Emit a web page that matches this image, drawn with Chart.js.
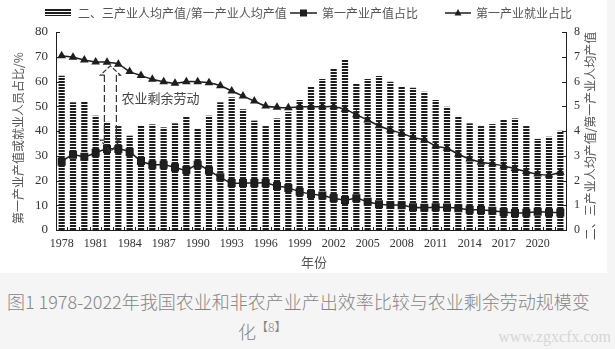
<!DOCTYPE html>
<html>
<head>
<meta charset="utf-8">
<script src="https://cdn.jsdelivr.net/npm/chart.js@4"></script>
<style>
  body { margin: 0; background: #f5f5f5; width: 615px; height: 349px; overflow: hidden; position: relative; }
  #box { position: absolute; left: 0; top: 0; width: 607px; height: 273px; background: #fff; }
  #cap { position: absolute; left: 0; top: 273px; width: 615px; color: #858585;
         font-family: "Noto Sans CJK SC Light", "Noto Sans CJK SC", "Noto Sans", sans-serif;
         font-weight: 300; font-size: 18px; }
  #cap .l1 { position: absolute; left: 7px; top: 15px; white-space: nowrap; }
  #cap .l2 { position: absolute; left: 238px; top: 45px; white-space: nowrap; }
  #cap sup { font-size: 12px; }
  #wm { position: absolute; right: 4px; bottom: 3px; color: #d6d6d6; font: 16px "Liberation Serif", serif; }
</style>
</head>
<body>
<div id="box"><canvas id="chart"></canvas></div>
<div id="cap">
  <div class="l1">图1 1978-2022年我国农业和非农产业产出效率比较与农业剩余劳动规模变</div>
  <div class="l2">化<sup>【8】</sup></div>
</div>
<div id="wm">www.zgxcfx.com</div>
<script>
// categories
var years = ['1978','1979','1980','1981','1982','1983','1984','1985','1986','1987',
             '1988','1989','1990','1991','1992','1993','1994','1995','1996','1997',
             '1998','1999','2000','2001','2002','2003','2004','2005','2006','2007',
             '2008','2009','2010','2011','2012','2013','2014','2015','2016','2017',
             '2018','2019','2020','2021','2022'];

// right axis: non-agri per capita output / agri per capita output
var ratio = [6.23, 5.16, 5.21, 4.62, 4.37, 4.20, 3.81, 4.21, 4.27, 4.15,
             4.31, 4.58, 4.11, 4.62, 5.16, 5.36, 4.88, 4.42, 4.20, 4.51,
             4.77, 5.25, 5.79, 6.10, 6.53, 6.87, 5.93, 6.10, 6.22, 5.99,
             5.79, 5.75, 5.59, 5.25, 4.98, 4.61, 4.31, 4.20, 4.28, 4.48,
             4.51, 4.20, 3.68, 3.77, 4.01];

// left axis, %
var outputShare = [27.6, 30.4, 29.6, 31.2, 32.7, 32.7, 31.5, 27.9, 26.4, 26.4,
                   25.3, 24.2, 26.4, 24.0, 21.3, 19.0, 19.0, 19.0, 19.0, 17.8,
                   17.0, 15.5, 14.5, 13.9, 12.9, 12.1, 12.8, 11.4, 10.4, 10.1,
                   10.0, 9.2, 9.0, 9.2, 9.1, 8.8, 8.2, 8.1, 7.8, 7.3,
                   6.9, 7.0, 7.4, 7.1, 7.1];

var employShare = [70.4, 69.8, 68.7, 67.9, 67.8, 67.0, 64.0, 62.4, 60.9, 59.9,
                   59.3, 59.9, 59.9, 59.5, 58.3, 56.2, 54.1, 52.1, 50.1, 49.6,
                   49.4, 49.8, 49.8, 49.8, 49.8, 48.8, 46.6, 44.4, 42.1, 40.4,
                   39.1, 37.4, 36.4, 33.9, 33.0, 30.6, 28.7, 27.4, 26.7, 25.9,
                   24.8, 23.6, 22.6, 22.2, 23.3];

var leftTitle = '第一产业产值或就业人员占比/%';
var rightTitle = '二、三产业人均产值/第一产业人均产值';
var xTitle = '年份';
var note = '农业剩余劳动';

var serif = "'Liberation Serif', 'Noto Sans CJK SC', serif";
var cjk = "'Noto Sans CJK SC', 'Liberation Serif', serif";
var ink = '#1e1e1e';

// striped fill for the bars
function stripes() {
    var c = document.createElement('canvas');
    c.width = 1; c.height = 3;
    var g = c.getContext('2d');
    g.fillStyle = '#fff'; g.fillRect(0, 0, 1, 3);
    g.fillStyle = ink; g.fillRect(0, 0, 1, 2);
    return g.createPattern(c, 'repeat');
}
var stripe = stripes();

function tri(ctx, x, y, r) {
    ctx.beginPath();
    ctx.moveTo(x, y - r);
    ctx.lineTo(x + r * 0.87, y + r * 0.6);
    ctx.lineTo(x - r * 0.87, y + r * 0.6);
    ctx.closePath();
    ctx.fill();
}

var extras = {
    id: 'extras',
    afterDraw: function(chart) {
        var ctx = chart.ctx, a = chart.chartArea;
        var x = chart.scales.x, yL = chart.scales.y, yR = chart.scales.y1;
        ctx.save();

        // inward tick marks
        ctx.strokeStyle = ink; ctx.lineWidth = 1;
        ctx.beginPath();
        yL.ticks.forEach(function(t, i) {
            var py = Math.round(yL.getPixelForTick(i)) + 0.5;
            ctx.moveTo(a.left, py); ctx.lineTo(a.left + 4, py);
        });
        yR.ticks.forEach(function(t, i) {
            var py = Math.round(yR.getPixelForTick(i)) + 0.5;
            ctx.moveTo(a.right, py); ctx.lineTo(a.right - 4, py);
        });
        var step = x.getPixelForValue(1) - x.getPixelForValue(0);
        for (var i = 0; i <= years.length; i++) {
            var px = Math.round(x.getPixelForValue(0) - step / 2 + i * step) + 0.5;
            ctx.moveTo(px, a.bottom); ctx.lineTo(px, a.bottom - 3);
        }
        ctx.stroke();

        // axis titles
        ctx.fillStyle = '#555';
        ctx.font = '12px ' + cjk;
        ctx.textAlign = 'center'; ctx.textBaseline = 'middle';
        ctx.save(); ctx.translate(18, 138); ctx.rotate(-Math.PI / 2);
        ctx.fillText(leftTitle, 0, 0); ctx.restore();
        ctx.save(); ctx.translate(590, 136); ctx.rotate(-Math.PI / 2);
        ctx.fillText(rightTitle, 0, 0); ctx.restore();
        ctx.font = '13px ' + cjk;
        ctx.fillText(xTitle, (a.left + a.right) / 2 + 3, 262);

        // legend
        var ly = 13;
        ctx.font = '12px ' + cjk;
        ctx.textAlign = 'left';
        ctx.fillStyle = stripe;
        ctx.fillRect(45, ly - 5, 26, 8);
        ctx.fillStyle = '#555';
        ctx.fillText(chart.data.datasets[2].label, 78, ly);

        ctx.strokeStyle = ink; ctx.lineWidth = 1.5;
        ctx.beginPath(); ctx.moveTo(290, ly); ctx.lineTo(317, ly); ctx.stroke();
        ctx.fillStyle = ink; ctx.fillRect(300, ly - 3.5, 7, 7);
        ctx.fillStyle = '#555';
        ctx.fillText(chart.data.datasets[0].label, 322, ly);

        ctx.beginPath(); ctx.moveTo(445, ly); ctx.lineTo(471, ly); ctx.stroke();
        ctx.fillStyle = ink; tri(ctx, 458, ly, 4);
        ctx.fillStyle = '#555';
        ctx.fillText(chart.data.datasets[1].label, 476, ly);

        // surplus labour arrow, between 1982 and 1983
        var x0 = x.getPixelForValue(4), x1 = x.getPixelForValue(5);
        var cx = x0 + (x1 - x0) * 0.3;
        var topApex = yL.getPixelForValue(66.3), topBase = yL.getPixelForValue(62.6);
        var botBase = yL.getPixelForValue(36.3), botApex = yL.getPixelForValue(31.6);
        ctx.strokeStyle = '#333'; ctx.lineWidth = 1.2;
        ctx.setLineDash([7, 3]);
        ctx.beginPath();
        ctx.moveTo(cx - 6, topBase); ctx.lineTo(cx - 6, botBase);
        ctx.moveTo(cx + 6, topBase); ctx.lineTo(cx + 6, botBase);
        ctx.stroke();
        ctx.setLineDash([5, 2]);
        ctx.beginPath();
        ctx.moveTo(cx - 6, topBase); ctx.lineTo(cx - 10, topBase); ctx.lineTo(cx, topApex);
        ctx.lineTo(cx + 10, topBase); ctx.lineTo(cx + 6, topBase);
        ctx.moveTo(cx - 6, botBase); ctx.lineTo(cx - 10, botBase); ctx.lineTo(cx, botApex);
        ctx.lineTo(cx + 10, botBase); ctx.lineTo(cx + 6, botBase);
        ctx.stroke();
        ctx.setLineDash([]);
        ctx.fillStyle = '#444';
        ctx.font = '13px ' + cjk;
        ctx.textAlign = 'left';
        ctx.fillText(note, cx + 11, yL.getPixelForValue(53.3));

        ctx.restore();
    }
};

var ctx = document.getElementById('chart').getContext('2d');
var chart = new Chart(ctx, {
    type: 'bar',
    data: {
        labels: years,
        datasets: [{
            type: 'line',
            label: '第一产业产值占比',
            data: outputShare,
            yAxisID: 'y',
            borderColor: ink,
            borderWidth: 1.5,
            backgroundColor: ink,
            pointStyle: 'rect',
            pointRadius: 4.6,
            tension: 0.3,
            order: 0
        }, {
            type: 'line',
            label: '第一产业就业占比',
            data: employShare,
            yAxisID: 'y',
            borderColor: ink,
            borderWidth: 1.5,
            backgroundColor: ink,
            pointStyle: 'triangle',
            pointRadius: 3.5,
            tension: 0.3,
            order: 1
        }, {
            label: '二、三产业人均产值/第一产业人均产值',
            data: ratio,
            yAxisID: 'y1',
            backgroundColor: stripe,
            borderWidth: 0,
            categoryPercentage: 1,
            barPercentage: 0.55,
            order: 2
        }]
    },
    options: {
        responsive: true,
        maintainAspectRatio: false,
        animation: false,
        layout: { padding: { top: 32, left: 0, right: 0, bottom: 0 } },
        plugins: {
            legend: { display: false },
            tooltip: { enabled: false }
        },
        scales: {
            x: {
                grid: { display: false, drawTicks: false },
                border: { display: true, color: ink, width: 1 },
                ticks: {
                    autoSkip: false, maxRotation: 0, padding: 7,
                    color: '#333', font: { family: serif, size: 12 },
                    callback: function(v, i) { return i % 3 === 0 ? years[i] : ''; }
                },
                afterFit: function(s) { s.height = 43; }
            },
            y: {
                position: 'left',
                min: 0, max: 80,
                grid: { display: false, drawTicks: false },
                border: { display: true, color: ink, width: 1 },
                ticks: { stepSize: 10, padding: 8, color: '#333', font: { family: serif, size: 13 } },
                afterFit: function(s) { s.width = 56; }
            },
            y1: {
                position: 'right',
                min: 0, max: 8,
                grid: { display: false, drawTicks: false },
                border: { display: true, color: ink, width: 1 },
                ticks: { stepSize: 1, padding: 8, color: '#333', font: { family: serif, size: 12 } },
                afterFit: function(s) { s.width = 41; }
            }
        }
    },
    plugins: [extras]
});
</script>
</body>
</html>
